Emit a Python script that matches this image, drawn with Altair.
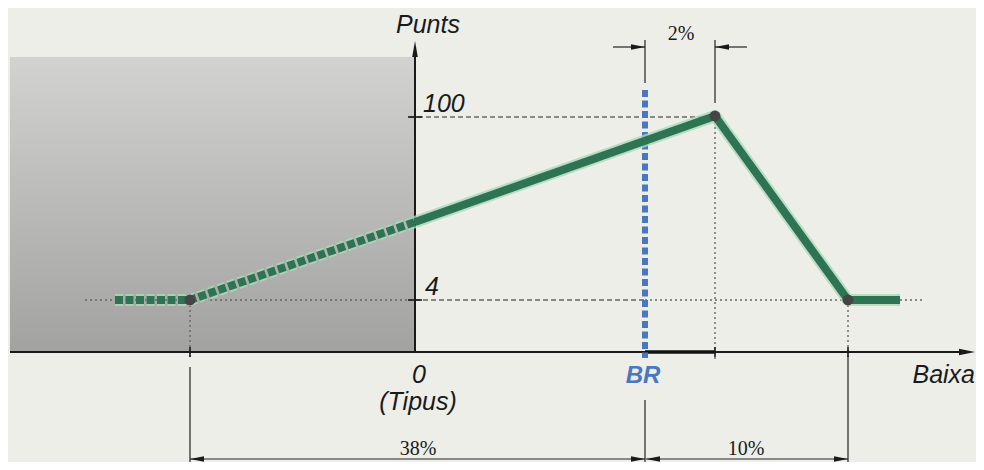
import altair as alt
import pandas as pd

# ---- schematic coordinates (x: along "Baixa", origin at Tipus; y: "Punts") ----
# green scoring line
solid_x = [0, 300, 433, 485]
solid_y = [130, 236, 52, 52]
dash_x = [-300, -225, 0]
dash_y = [52, 52, 130]
vertex_x = [-225, 300, 433]
vertex_y = [52, 236, 52]

# key positions
X_LEFT, X_TIPUS, X_BR, X_PEAK, X_MIN = -225, 0, 230, 300, 433
Y_LOW, Y_HIGH = 52, 235

# labels
y_tick_labels = ["100", "4"]
y_tick_values = [Y_HIGH, Y_LOW]
dim_labels = ["38%", "10%", "2%"]

XD = [-407, 561]
YD = [-110, 344]
xs = alt.Scale(domain=XD, zero=False, nice=False)
ys = alt.Scale(domain=YD, zero=False, nice=False)


def X(f="x"):
    return alt.X(f"{f}:Q", scale=xs, axis=None)


def Y(f="y"):
    return alt.Y(f"{f}:Q", scale=ys, axis=None)


def rules(rows, **kw):
    df = pd.DataFrame(rows, columns=["x", "x2", "y", "y2"])
    return alt.Chart(df).mark_rule(**kw).encode(
        x=X(), x2="x2:Q", y=Y(), y2="y2:Q")


def arrows(rows, shape, size, color="#1a1a1a"):
    df = pd.DataFrame(rows, columns=["x", "y"])
    return alt.Chart(df).mark_point(shape=shape, filled=True, size=size,
                                    color=color, opacity=1, strokeWidth=0).encode(
        x=X(), y=Y())


def texts(rows, **kw):
    df = pd.DataFrame(rows, columns=["x", "y", "t"])
    return alt.Chart(df).mark_text(**kw).encode(x=X(), y=Y(), text="t:N")


# gray shaded zone (left of Tipus)
shade = alt.Chart(pd.DataFrame({"x": [-405], "x2": [X_TIPUS], "y": [0], "y2": [295]})).mark_rect(
    fill=alt.LinearGradient(
        gradient="linear",
        stops=[alt.GradientStop(color="#d2d2d0", offset=0),
               alt.GradientStop(color="#a2a2a1", offset=1)],
        x1=0, x2=0, y1=0, y2=1),
).encode(x=X(), x2="x2:Q", y=Y(), y2="y2:Q")

# guide lines
gray_dot = dict(color="#666666", strokeWidth=1.4, strokeDash=[2, 3])
black_dash = dict(color="#222222", strokeWidth=1.2, strokeDash=[5, 3])
guides = alt.layer(
    rules([[-330, X_TIPUS, Y_LOW, Y_LOW], [X_BR, 507, Y_LOW, Y_LOW],
           [X_LEFT, X_LEFT, Y_LOW, -8], [X_PEAK, X_PEAK, Y_HIGH, -8],
           [X_MIN, X_MIN, Y_LOW, -5]], **gray_dot),
    rules([[X_TIPUS, X_BR, Y_LOW, Y_LOW], [-5, X_PEAK, Y_HIGH, Y_HIGH]], **black_dash),
)

# dimension lines
dims = alt.layer(
    rules([[X_LEFT, X_LEFT, -15, -110], [X_BR, X_BR, -48, -110], [X_MIN, X_MIN, -5, -110],
           [X_BR, X_BR, 312, 269], [X_PEAK, X_PEAK, 312, 249],
           [X_LEFT, X_BR, -107, -107], [X_BR + 1, X_MIN, -107, -107],
           [198, X_BR, 305, 305], [X_PEAK, 332, 305, 305]],
          color="#222222", strokeWidth=1.2),
    arrows([[X_BR - 7, 305], [X_BR - 7, -107], [X_MIN - 7, -107]],
           "M1,0L-1,-0.4L-1,0.4Z", 196),
    arrows([[X_PEAK + 7, 305], [X_LEFT + 7, -107], [X_BR + 8, -107]],
           "M-1,0L1,-0.4L1,0.4Z", 196),
)

# axes
axes = alt.layer(
    rules([[-405, 553, 0, 0]], color="#1a1a1a", strokeWidth=2),
    rules([[X_TIPUS, X_TIPUS, 0, 305]], color="#1a1a1a", strokeWidth=2),
    rules([[X_BR, X_PEAK, 0, 0]], color="#111111", strokeWidth=3.5),
    rules([[-7, 7, Y_HIGH, Y_HIGH], [-7, 7, Y_LOW, Y_LOW], [X_LEFT, X_LEFT, 5, -5],
           [X_PEAK, X_PEAK, 5, -5], [X_MIN, X_MIN, 5, -5]],
          color="#1a1a1a", strokeWidth=1.6),
    arrows([[552, 0]], "M1,0L-1,-0.4L-1,0.4Z", 256),
    arrows([[X_TIPUS, 303]], "M0,-1L-0.35,1L0.35,1Z", 256),
)

# BR line
br = rules([[X_BR, X_BR, 262, -6]], color="#4a78c0", strokeWidth=6, strokeDash=[7, 3.5])

# green line
sdf = pd.DataFrame({"x": solid_x, "y": solid_y, "o": range(len(solid_x))})
ddf = pd.DataFrame({"x": dash_x, "y": dash_y, "o": range(len(dash_x))})
vdf = pd.DataFrame({"x": vertex_x, "y": vertex_y})


def gline(df, **kw):
    return alt.Chart(df).mark_line(**kw).encode(x=X(), y=Y(), order="o:Q")


green = alt.layer(
    gline(sdf, color="#a9d9b6", strokeWidth=12, opacity=0.8, strokeJoin="round"),
    gline(ddf, color="#a9d9b6", strokeWidth=12, opacity=0.8, strokeDash=[8, 2.5]),
    gline(sdf, color="#2e7353", strokeWidth=8, strokeJoin="round"),
    gline(ddf, color="#2e7353", strokeWidth=8, strokeDash=[8, 2.5]),
    alt.Chart(vdf).mark_point(filled=True, size=120, color="#454545", opacity=1).encode(x=X(), y=Y()),
)

# text
sans = dict(font="Liberation Sans", fontStyle="italic", fontSize=25, color="#1a1a1a")
serif = dict(font="Liberation Serif", fontSize=20, color="#1a1a1a")
labels = alt.layer(
    texts([[13, 319, "Punts"], [X_TIPUS + 4, -31, "0"], [X_TIPUS + 3, -58, "(Tipus)"]],
          align="center", baseline="alphabetic", **sans),
    texts([[8, y_tick_values[0] + 5, y_tick_labels[0]], [10, y_tick_values[1] + 5, y_tick_labels[1]]],
          align="left", baseline="alphabetic", **sans),
    texts([[560, -31, "Baixa"]], align="right", baseline="alphabetic", **sans),
    texts([[X_BR - 2, -31, "BR"]], align="center", baseline="alphabetic",
          font="Liberation Sans", fontStyle="italic", fontWeight="bold", fontSize=24, color="#4a78c0"),
    texts([[3, -103, dim_labels[0]], [331, -103, dim_labels[1]], [266, 312, dim_labels[2]]],
          align="center", baseline="alphabetic", **serif),
)

chart = alt.layer(shade, guides, dims, axes, br, green, labels).properties(
    width=968, height=454, padding=0, autosize=alt.AutoSizeParams(type="none"),
    background="#eeeee9",
).configure_view(strokeWidth=0)

chart.save("out.html", embed_options={"renderer": "svg", "actions": False})
